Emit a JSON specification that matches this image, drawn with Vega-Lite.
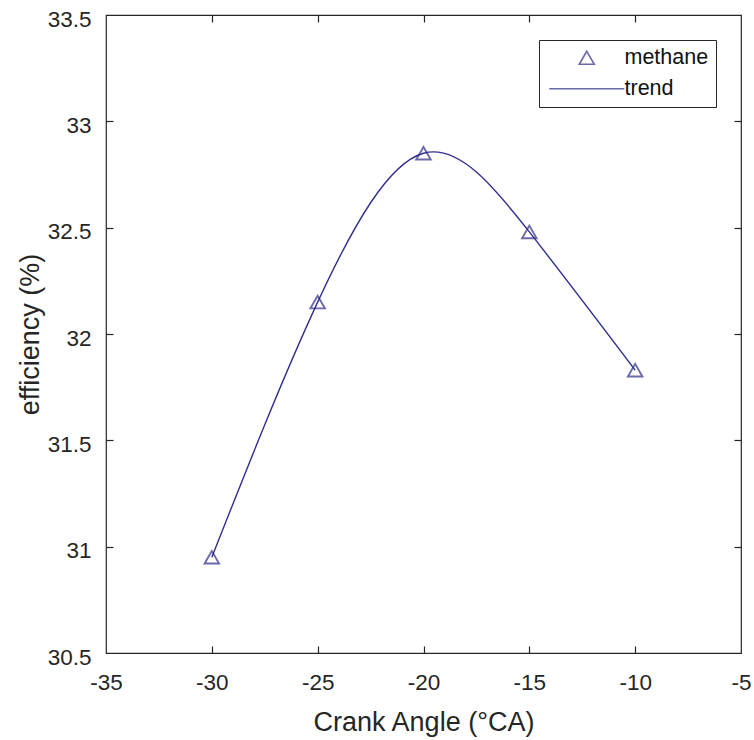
{
  "$schema": "https://vega.github.io/schema/vega-lite/v6.json",
  "autosize": {"type": "none"},
  "width": 635,
  "height": 638,
  "padding": {"left": 106, "top": 15, "right": 13, "bottom": 87},
  "background": "white",
  "config": {
    "view": {"stroke": "#262626", "strokeWidth": 1.2},
    "font": "Liberation Sans",
    "axis": {
      "grid": false,
      "domain": false,
      "tickColor": "#262626",
      "tickSize": 7,
      "tickWidth": 1.2,
      "labelColor": "#262626",
      "titleColor": "#262626",
      "labelFont": "Liberation Sans",
      "titleFont": "Liberation Sans",
      "labelFontSize": 22.5,
      "titleFontSize": 27,
      "titleFontWeight": "normal"
    }
  },
  "datasets": {
    "pts": [
      {"angle": -30, "eff": 30.95, "series": "methane"},
      {"angle": -25, "eff": 32.15, "series": "methane"},
      {"angle": -20, "eff": 32.85, "series": "methane"},
      {"angle": -15, "eff": 32.48, "series": "methane"},
      {"angle": -10, "eff": 31.83, "series": "methane"}
    ],
    "trend": [
      {"angle": -30, "eff": 30.95, "series": "trend"},
      {"angle": -25, "eff": 32.15, "series": "trend"},
      {"angle": -20, "eff": 32.85, "series": "trend"},
      {"angle": -15, "eff": 32.48, "series": "trend"},
      {"angle": -10, "eff": 31.83, "series": "trend"}
    ]
  },
  "layer": [
    {
      "data": {"name": "trend"},
      "mark": {"type": "line", "interpolate": "natural", "strokeWidth": 1.4, "color": "#30308f"},
      "encoding": {
        "x": {
          "field": "angle", "type": "quantitative",
          "scale": {"domain": [-35, -5], "nice": false, "zero": false},
          "axis": {"orient": "bottom", "ticks": false, "values": [-35, -30, -25, -20, -15, -10, -5], "labelExpr": "'' + datum.value", "labelPadding": 18, "labelFlush": false, "title": "Crank Angle (°CA)", "titleX": 317.5, "titleY": 69, "titleBaseline": "middle", "titleAlign": "center"}
        },
        "y": {
          "field": "eff", "type": "quantitative",
          "scale": {"domain": [30.5, 33.5], "nice": false, "zero": false},
          "axis": {"orient": "left", "ticks": false, "values": [30.5, 31, 31.5, 32, 32.5, 33, 33.5], "labelExpr": "'' + datum.value", "labelPadding": 15, "labelOffset": 4, "labelFlush": false, "title": "efficiency (%)", "titleX": -76, "titleY": 319, "titleAngle": -90, "titleBaseline": "middle", "titleAlign": "center"}
        }
      }
    },
    {
      "data": {"name": "pts"},
      "mark": {"type": "point", "filled": false, "size": 210, "strokeWidth": 1.9, "color": "#2c2c88"},
      "encoding": {
        "x": {
          "field": "angle", "type": "quantitative",
          "axis": {"orient": "top", "offset": -638, "ticks": true, "values": [-30, -25, -20, -15, -10], "labels": false, "title": null}
        },
        "y": {
          "field": "eff", "type": "quantitative",
          "axis": {"orient": "right", "offset": -635, "ticks": true, "values": [31, 31.5, 32, 32.5, 33], "labels": false, "title": null}
        },
        "shape": {
          "field": "series", "type": "nominal",
          "scale": {"domain": ["methane", "trend"], "range": ["triangle-up", "M-5,0H5"]},
          "legend": {
            "title": null,
            "orient": "top-right",
            "offset": 25,
            "padding": 7,
            "strokeColor": "#262626",
            "fillColor": "white",
            "labelFont": "Liberation Sans",
            "labelFontSize": 21.5,
            "labelColor": "#111111",
            "labelOffset": 27,
            "symbolOffset": 30,
            "rowPadding": 8,
            "symbolSize": 225,
            "symbolStrokeWidth": 1.6,
            "symbolFillColor": "transparent",
            "symbolStrokeColor": "#2c2c88"
          }
        }
      }
    },
    {
      "data": {"name": "pts"},
      "mark": {"type": "point", "opacity": 0},
      "encoding": {
        "x": {
          "field": "angle", "type": "quantitative",
          "axis": {"orient": "bottom", "offset": -638, "ticks": true, "values": [-30, -25, -20, -15, -10], "labels": false, "title": null}
        },
        "y": {
          "field": "eff", "type": "quantitative",
          "axis": {"orient": "left", "offset": -635, "ticks": true, "values": [31, 31.5, 32, 32.5, 33], "labels": false, "title": null}
        }
      }
    }
  ],
  "resolve": {"axis": {"x": "independent", "y": "independent"}}
}
